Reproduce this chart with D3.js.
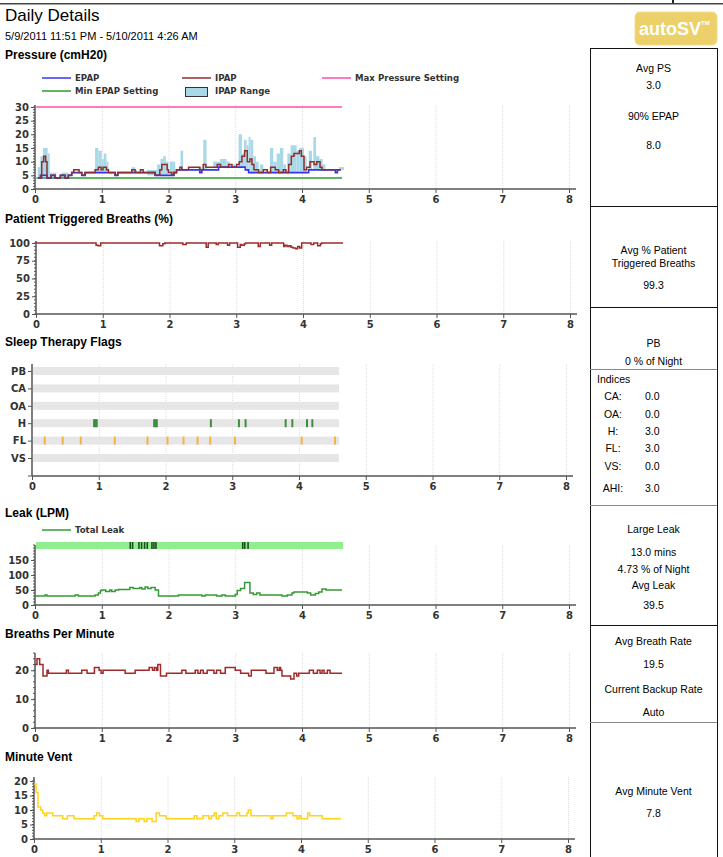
<!DOCTYPE html>
<html>
<head>
<meta charset="utf-8">
<script src="https://cdn.jsdelivr.net/npm/d3@7"></script>
<style>
  body { margin: 0; background: #fff; }
  .ttl { font-family: "Liberation Sans", Arial, sans-serif; font-weight: bold; font-size: 12px; fill: #000; }
  .tick-lbl { font-family: "DejaVu Sans", Verdana, sans-serif; font-weight: bold; font-size: 10px; fill: #333; }
  .leg { font-family: "DejaVu Sans", Verdana, sans-serif; font-weight: bold; font-size: 8.6px; fill: #333; }
  .pnl { font-family: "Liberation Sans", Arial, sans-serif; font-size: 10.5px; fill: #000; }
</style>
</head>
<body>
<svg id="report" width="723" height="857"></svg>
<script>
// hours of the night on every x axis
const hourTicks = [0, 1, 2, 3, 4, 5, 6, 7, 8];
const nightEnd = 4.6;

// pressure (cmH2O), step series [hour, value]
const epap = [[0.05,4],[0.1,5],[0.18,4],[0.24,5],[0.3,4],[0.38,5],[0.45,4],[0.5,5],[0.55,6],[0.7,5],[0.75,6],[1.2,5],[1.24,6],
  [1.8,5],[2.08,6],[2.12,7],[2.47,6],[2.5,7],[2.75,8],[3.15,7],[3.2,6],[4.1,7],[4.5,6],[4.53,7],[4.58,7]];
const ipap = [[0.05,4],[0.08,5],[0.1,10],[0.13,12],[0.16,10],[0.18,4],[0.24,5],[0.3,4],[0.38,5],[0.45,4],[0.5,5],[0.55,6],[0.58,7],
  [0.66,6],[0.7,5],[0.75,6],[0.9,7],[0.95,8],[0.99,7],[1.02,8],[1.07,7],[1.1,6],[1.2,5],[1.24,6],[1.45,7],[1.5,6],[1.58,7],[1.62,6],
  [1.8,5],[1.87,7],[1.9,9],[1.98,7],[2.0,6],[2.05,5],[2.08,6],[2.12,7],[2.17,8],[2.2,7],[2.3,8],[2.47,7],[2.52,9],[2.56,8],[2.73,9],
  [2.78,8],[2.9,9],[2.95,8],[3.02,9],[3.06,10],[3.1,12],[3.14,14],[3.18,10],[3.22,11],[3.25,9],[3.28,7],[3.35,6],[3.42,7],[3.48,6],
  [3.53,8],[3.6,7],[3.65,6],[3.72,7],[3.76,6],[3.8,9],[3.84,12],[3.88,13],[3.96,14],[3.99,12],[4.03,7],[4.07,8],[4.12,10],[4.18,9],
  [4.22,10],[4.27,8],[4.3,7],[4.58,7]];
// IPAP range bars [from, to, low, high]
const ipapRange = [[0.04,0.08,4,8],[0.08,0.12,5,12],[0.12,0.19,5,15],[0.19,0.22,4,13],[0.22,0.26,4,6],[0.27,0.32,4,6],[0.4,0.5,4,6],
  [0.9,0.95,6,15],[0.95,1.0,6,14],[1.0,1.03,6,11],[1.03,1.07,6,13],[1.07,1.1,6,10],[1.45,1.5,6,8],[1.5,1.53,6,7],[1.68,1.83,5,7],
  [1.83,1.88,5,9],[1.88,1.92,5,11],[1.92,1.96,5,12],[1.96,2.0,5,10],[2.02,2.1,5,10],[2.18,2.22,7,14],[2.45,2.5,6,8],[2.52,2.57,7,18],
  [2.67,2.77,8,10],[2.77,2.87,8,11],[2.87,2.92,8,10],[2.95,3.0,8,9],[3.05,3.1,8,20],[3.1,3.13,8,13],[3.13,3.17,8,18],[3.17,3.2,7,16],
  [3.2,3.23,6,19],[3.23,3.27,6,18],[3.27,3.31,6,12],[3.31,3.35,6,10],[3.37,3.42,6,9],[3.52,3.57,6,15],[3.57,3.62,6,10],[3.62,3.67,6,13],
  [3.67,3.72,6,15],[3.72,3.76,6,9],[3.78,3.83,6,13],[3.83,3.92,6,16],[3.92,3.96,6,14],[3.96,4.03,6,15],[4.03,4.07,6,12],[4.1,4.15,7,14],
  [4.17,4.21,7,19],[4.21,4.26,7,12],[4.26,4.31,7,11],[4.31,4.35,7,9],[4.55,4.63,7,8]];
const maxPressure = [[0.02,30],[4.6,30]];
const minEpap = [[0.02,4],[4.6,4]];

// patient triggered breaths (%)
const triggered = [[0,100],[0.9,97],[0.93,96],[0.97,100],[1.85,96],[1.9,99],[1.93,100],[2.2,98],[2.25,100],[2.55,94],[2.58,100],
  [2.7,98],[2.73,100],[2.87,97],[2.9,100],[3.02,94],[3.06,98],[3.08,97],[3.12,99],[3.14,100],[3.33,95],[3.36,100],[3.5,97],[3.53,100],
  [3.71,95],[3.73,97],[3.76,95],[3.79,96],[3.82,94],[3.85,93],[3.89,92],[3.92,95],[3.95,93],[3.98,100],[4.12,98],[4.16,100],
  [4.22,96],[4.26,99],[4.28,100],[4.6,100]];

// sleep therapy flags
const flagRows = ["PB", "CA", "OA", "H", "FL", "VS"];
const hFlags = [0.93,0.95,0.97,1.83,1.85,1.87,2.68,3.1,3.2,3.8,3.9,4.12,4.2];
const flFlags = [0.19,0.46,0.73,1.24,1.73,2.03,2.27,2.48,2.67,3.04,4.04,4.54];

// leak (LPM)
const totalLeak = [[0,30],[0.15,33],[0.18,30],[0.6,33],[0.65,30],[0.9,33],[0.95,40],[0.98,48],[1.0,50],[1.06,45],[1.12,50],[1.15,45],
  [1.2,50],[1.25,52],[1.42,58],[1.47,55],[1.57,58],[1.6,53],[1.65,60],[1.69,55],[1.74,58],[1.8,50],[1.85,30],[2.15,33],[2.5,30],
  [2.55,33],[2.72,30],[2.8,33],[2.85,30],[3.0,35],[3.03,48],[3.08,55],[3.14,75],[3.22,40],[3.27,35],[3.32,40],[3.37,33],[3.7,30],
  [3.78,33],[3.85,40],[3.88,43],[4.08,40],[4.13,33],[4.2,38],[4.25,43],[4.3,53],[4.36,50],[4.6,50]];
const largeLeak = [1.415,1.45,1.545,1.585,1.63,1.67,1.74,1.77,1.8,3.1,3.13,3.18];

// breaths per minute
const breathRate = [[0,22],[0.03,24],[0.07,22],[0.12,18],[0.18,20],[0.2,19],[0.47,20],[0.5,19],[0.7,20],[0.78,19],[0.89,21],[0.96,20],
  [0.99,19],[1.02,20],[1.35,19],[1.5,20],[1.71,21],[1.76,20],[1.79,21],[1.82,20],[1.84,22],[1.88,18],[1.97,19],[2.2,20],[2.26,19],
  [2.4,20],[2.44,19],[2.48,20],[2.52,19],[2.58,20],[2.68,19],[2.72,20],[2.78,19],[2.85,21],[3.0,20],[3.08,19],[3.2,18],[3.24,20],
  [3.46,19],[3.58,21],[3.63,20],[3.66,21],[3.68,20],[3.7,18],[3.83,17],[3.88,19],[3.92,18],[3.95,19],[4.11,20],[4.17,19],[4.23,20],
  [4.27,19],[4.3,20],[4.33,19],[4.38,20],[4.42,19],[4.6,19]];

// minute vent
const minuteVent = [[0,19],[0.03,16],[0.06,11],[0.1,10],[0.13,9],[0.16,8],[0.19,9],[0.28,8],[0.43,7],[0.5,8],[0.6,7],[0.9,8],[0.94,9],
  [0.98,8],[1.03,7],[1.53,6],[1.57,7],[1.65,6],[1.69,7],[1.77,6],[1.83,9],[1.88,8],[1.98,7],[2.4,8],[2.44,7],[2.53,8],[2.62,7],[2.66,8],
  [2.7,9],[2.73,7],[2.77,8],[2.83,9],[2.9,8],[3.04,9],[3.08,8],[3.19,9],[3.21,10],[3.25,8],[3.55,7],[3.58,8],[3.78,9],[3.88,8],[3.94,7],
  [3.97,8],[4.0,7],[4.1,9],[4.13,8],[4.32,7],[4.6,7]];

// summary panel
const psStats = ["Avg PS", "3.0", "90% EPAP", "8.0"];
const trigStats = ["Avg % Patient", "Triggered Breaths", "99.3"];
const pbStats = ["PB", "0 % of Night"];
const indices = [["CA:", "0.0"], ["OA:", "0.0"], ["H:", "3.0"], ["FL:", "3.0"], ["VS:", "0.0"], ["AHI:", "3.0"]];
const leakStats = ["Large Leak", "13.0 mins", "4.73 % of Night", "Avg Leak", "39.5"];
const rateStats = ["Avg Breath Rate", "19.5", "Current Backup Rate", "Auto"];
const mvStats = ["Avg Minute Vent", "7.8"];

const svg = d3.select("#report");

// header
svg.append("rect").attr("x", 0).attr("y", 3).attr("width", 723).attr("height", 1.5).attr("fill", "#444");
svg.append("rect").attr("x", 672).attr("y", 0).attr("width", 2).attr("height", 3).attr("fill", "#222");
svg.append("text").attr("x", 5).attr("y", 21).style("font-family", "Liberation Sans, Arial, sans-serif")
  .style("font-size", "17px").text("Daily Details");
svg.append("text").attr("class", "pnl").attr("x", 5).attr("y", 40).style("font-size", "11px")
  .text("5/9/2011 11:51 PM - 5/10/2011 4:26 AM");

const logo = svg.append("g");
logo.append("rect").attr("x", 635).attr("y", 12).attr("width", 82).attr("height", 33).attr("rx", 5)
  .attr("fill", "#ECD06A").attr("stroke", "#F2DC8C");
logo.append("text").attr("x", 670).attr("y", 35).attr("text-anchor", "middle")
  .style("font-family", "Liberation Sans, Arial, sans-serif").style("font-weight", "bold").style("font-size", "18px")
  .attr("fill", "#fff").text("autoSV");
logo.append("text").attr("x", 701).attr("y", 25).style("font-family", "Liberation Sans, Arial, sans-serif")
  .style("font-size", "6px").style("font-weight", "bold").attr("fill", "#fff").text("TM");

function stepLine(x, y) {
  return d3.line().x(d => x(d[0])).y(d => y(d[1])).curve(d3.curveStepAfter);
}

// one time chart frame: grid, axes, ticks
function frame(opt) {
  const x = d3.scaleLinear().domain([0, 8]).range([opt.x0, opt.x0 + 534]);
  const y = d3.scaleLinear().domain(opt.domain).range([opt.bottom, opt.top]);
  const g = svg.append("g");
  svg.append("text").attr("class", "ttl").attr("x", 5).attr("y", opt.titleY).text(opt.title);

  g.selectAll(".grid").data(hourTicks.slice(1)).enter().append("line")
    .attr("x1", d => x(d) + 0.5).attr("x2", d => x(d) + 0.5)
    .attr("y1", opt.axisTop).attr("y2", opt.bottom)
    .attr("stroke", "#dcdcdc").attr("stroke-dasharray", "1,1");

  const xAxis = d3.axisBottom(x).tickValues(hourTicks).tickSize(4).tickPadding(3).tickFormat(d3.format("d"));
  const xg = g.append("g").attr("transform", `translate(0,${opt.bottom})`).call(xAxis);
  xg.select(".domain").remove();
  xg.append("line").attr("x1", opt.x0).attr("x2", opt.x0 + 541).attr("stroke", "#555").attr("stroke-width", 1.5);
  xg.selectAll(".tick line").attr("stroke", "#555");
  xg.selectAll(".tick text").attr("class", "tick-lbl").attr("fill", null);

  g.append("line").attr("x1", opt.x0).attr("x2", opt.x0).attr("y1", opt.axisTop).attr("y2", opt.bottom)
    .attr("stroke", "#555").attr("stroke-width", 1.5);

  if (opt.minor) {
    g.selectAll(".minor").data(opt.minor).enter().append("line")
      .attr("x1", opt.x0 - 2).attr("x2", opt.x0).attr("y1", d => y(d)).attr("y2", d => y(d)).attr("stroke", "#555");
  }
  if (opt.ticks) {
    const yAxis = d3.axisLeft(y).tickValues(opt.ticks).tickSize(4).tickPadding(2);
    const yg = g.append("g").attr("transform", `translate(${opt.x0},0)`).call(yAxis);
    yg.select(".domain").remove();
    yg.selectAll(".tick line").attr("stroke", "#555");
    yg.selectAll(".tick text").attr("class", "tick-lbl").attr("fill", null);
  }
  return { x, y, g };
}

// ---------- pressure
const pr = frame({ title: "Pressure (cmH20)", titleY: 59, x0: 35, top: 107, bottom: 189, axisTop: 105,
  domain: [0, 30], ticks: d3.range(0, 31, 5), minor: d3.range(0, 31, 1) });

pr.g.selectAll(".rng").data(ipapRange).enter().append("rect")
  .attr("x", d => pr.x(d[0])).attr("width", d => pr.x(d[1]) - pr.x(d[0]))
  .attr("y", d => pr.y(d[3])).attr("height", d => pr.y(d[2]) - pr.y(d[3]))
  .attr("fill", "#A9D9E6");
pr.g.append("path").datum(maxPressure).attr("d", stepLine(pr.x, pr.y)).attr("fill", "none").attr("stroke", "#FF4FA7").attr("stroke-width", 1.5);
pr.g.append("path").datum(minEpap).attr("d", stepLine(pr.x, pr.y)).attr("fill", "none").attr("stroke", "#2E9B2E").attr("stroke-width", 1.5);
pr.g.append("path").datum(epap).attr("d", stepLine(pr.x, pr.y)).attr("fill", "none").attr("stroke", "#3535F0").attr("stroke-width", 1.6);
pr.g.append("path").datum(ipap).attr("d", stepLine(pr.x, pr.y)).attr("fill", "none").attr("stroke", "#8E2E2E").attr("stroke-width", 1.5);

const pLegend = [
  { label: "EPAP", x: 42, y: 78, color: "#3535F0" },
  { label: "IPAP", x: 182, y: 78, color: "#8E2E2E" },
  { label: "Max Pressure Setting", x: 322, y: 78, color: "#FF4FA7" },
  { label: "Min EPAP Setting", x: 42, y: 91, color: "#2E9B2E" }
];
pLegend.forEach(l => {
  svg.append("line").attr("x1", l.x).attr("x2", l.x + 29).attr("y1", l.y).attr("y2", l.y).attr("stroke", l.color).attr("stroke-width", 1.5);
  svg.append("text").attr("class", "leg").attr("x", l.x + 33).attr("y", l.y + 3).text(l.label);
});
svg.append("rect").attr("x", 185.5).attr("y", 87.5).attr("width", 22).attr("height", 9).attr("fill", "#A9D9E6").attr("stroke", "#333");
svg.append("text").attr("class", "leg").attr("x", 215).attr("y", 94).text("IPAP Range");

// ---------- patient triggered breaths
const tb = frame({ title: "Patient Triggered Breaths (%)", titleY: 223, x0: 36, top: 243, bottom: 314, axisTop: 241,
  domain: [0, 100], ticks: [0, 25, 50, 75, 100], minor: d3.range(0, 101, 5) });
tb.g.append("path").datum(triggered).attr("d", stepLine(tb.x, tb.y)).attr("fill", "none").attr("stroke", "#9E2B2B").attr("stroke-width", 1.5);

// ---------- sleep therapy flags
const fl = frame({ title: "Sleep Therapy Flags", titleY: 346, x0: 32, top: 362, bottom: 476, axisTop: 364,
  domain: [0, 1] });
const rowY = d3.scalePoint().domain(flagRows).range([371, 458]);
const fyAxis = d3.axisLeft(rowY).tickSize(4).tickPadding(2);
const fyg = fl.g.append("g").attr("transform", `translate(32,0)`).call(fyAxis);
fyg.select(".domain").remove();
fyg.selectAll(".tick line").attr("stroke", "#555");
fyg.selectAll(".tick text").attr("class", "tick-lbl").attr("fill", null);
fl.g.append("line").attr("x1", 28).attr("x2", 32).attr("y1", 476).attr("y2", 476).attr("stroke", "#555");

fl.g.selectAll(".band").data(flagRows).enter().append("rect")
  .attr("x", fl.x(0) + 1).attr("width", fl.x(nightEnd) - fl.x(0) - 1)
  .attr("y", d => rowY(d) - 4).attr("height", 8).attr("fill", "#E6E6E6");
fl.g.selectAll(".hf").data(hFlags).enter().append("rect")
  .attr("x", d => fl.x(d) - 1).attr("width", 2).attr("y", rowY("H") - 4).attr("height", 8).attr("fill", "#3E8E3E");
fl.g.selectAll(".ff").data(flFlags).enter().append("rect")
  .attr("x", d => fl.x(d) - 1).attr("width", 2).attr("y", rowY("FL") - 4).attr("height", 8).attr("fill", "#F7B33F");

// ---------- leak
const lk = frame({ title: "Leak (LPM)", titleY: 517, x0: 35, top: 545, bottom: 605, axisTop: 545,
  domain: [0, 200], ticks: [0, 50, 100, 150], minor: d3.range(0, 201, 10) });
lk.g.append("rect").attr("x", lk.x(0) + 1).attr("width", lk.x(nightEnd) - lk.x(0))
  .attr("y", 542).attr("height", 7).attr("fill", "#8FEE8F");
lk.g.selectAll(".ll").data(largeLeak).enter().append("rect")
  .attr("x", d => lk.x(d)).attr("width", 1.6).attr("y", 542).attr("height", 7).attr("fill", "#1F4F1F");
lk.g.append("path").datum(totalLeak).attr("d", stepLine(lk.x, lk.y)).attr("fill", "none").attr("stroke", "#359A35").attr("stroke-width", 1.5);
svg.append("line").attr("x1", 42).attr("x2", 71).attr("y1", 530).attr("y2", 530).attr("stroke", "#359A35").attr("stroke-width", 1.5);
svg.append("text").attr("class", "leg").attr("x", 75).attr("y", 533).text("Total Leak");

// ---------- breaths per minute
const bp = frame({ title: "Breaths Per Minute", titleY: 638, x0: 35, top: 653, bottom: 728, axisTop: 653,
  domain: [0, 26], ticks: [0, 10, 20], minor: d3.range(0, 27, 2) });
bp.g.append("path").datum(breathRate).attr("d", stepLine(bp.x, bp.y)).attr("fill", "none").attr("stroke", "#A02A2A").attr("stroke-width", 1.5);

// ---------- minute vent
const mvc = frame({ title: "Minute Vent", titleY: 761, x0: 34, top: 781, bottom: 839, axisTop: 777,
  domain: [0, 20], ticks: [0, 5, 10, 15, 20], minor: d3.range(0, 21, 1) });
mvc.g.append("path").datum(minuteVent).attr("d", stepLine(mvc.x, mvc.y)).attr("fill", "none").attr("stroke", "#FFD21F").attr("stroke-width", 1.5);

// ---------- summary panel
const px0 = 590, px1 = 717, pcx = 653.5;
const panel = svg.append("g");
panel.append("rect").attr("x", px0 + 0.5).attr("y", 48.5).attr("width", px1 - px0).attr("height", 812)
  .attr("fill", "none").attr("stroke", "#111");
[[206, "#111"], [307, "#111"], [369, "#888"], [505, "#888"], [625, "#111"], [722, "#888"]].forEach(d => {
  panel.append("line").attr("x1", px0).attr("x2", px1).attr("y1", d[0] + 0.5).attr("y2", d[0] + 0.5).attr("stroke", d[1]);
});

function centred(lines, ys) {
  panel.selectAll(null).data(lines).enter().append("text").attr("class", "pnl")
    .attr("x", pcx).attr("y", (d, i) => ys[i] + 4).attr("text-anchor", "middle").text(d => d);
}
centred(psStats, [68, 85, 116, 145]);
centred(trigStats, [250, 263, 285]);
centred(pbStats, [343, 361]);
centred(leakStats, [529, 552, 569, 585, 605]);
centred(rateStats, [641, 664, 689, 712]);
centred(mvStats, [791, 813]);

panel.append("text").attr("class", "pnl").attr("x", 597).attr("y", 383).text("Indices");
const idxY = [396, 414, 431, 448, 466, 488];
panel.selectAll(".ik").data(indices).enter().append("text").attr("class", "pnl")
  .attr("x", 613).attr("y", (d, i) => idxY[i] + 4).attr("text-anchor", "middle").text(d => d[0]);
panel.selectAll(".iv").data(indices).enter().append("text").attr("class", "pnl")
  .attr("x", 645).attr("y", (d, i) => idxY[i] + 4).text(d => d[1]);
</script>
</body>
</html>
